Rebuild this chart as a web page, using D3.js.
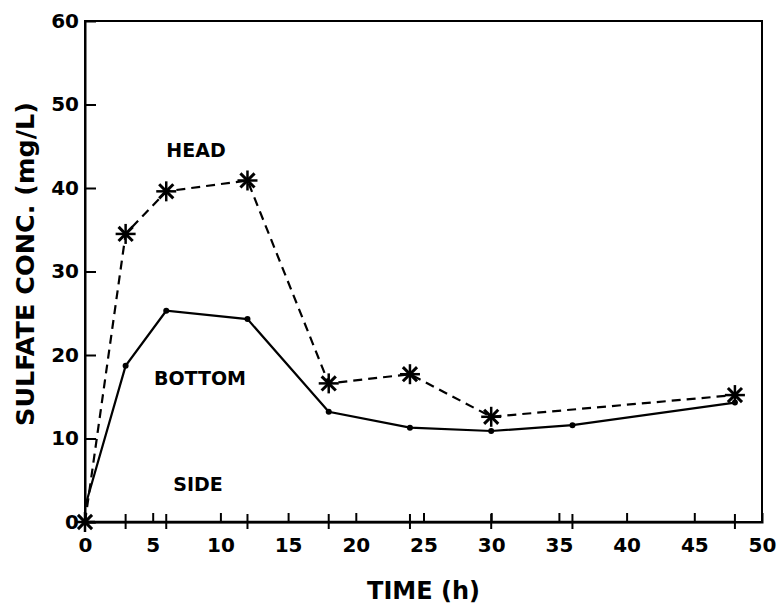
<!DOCTYPE html>
<html lang="en">
<head>
<meta charset="UTF-8">
<title>Sulfate concentration</title>
<script src="https://d3js.org/d3.v7.min.js"></script>
<style>
  body { margin: 0; background: #fff; }
  text { font-family: 'DejaVu Sans', 'Helvetica', Arial, sans-serif; font-weight: bold; fill: #000; }
</style>
</head>
<body>
<div id="chart"></div>
<script>
// sample times (h)
const times = [0, 3, 6, 12, 18, 24, 30, 36, 48];
const headTimes = [0, 3, 6, 12, 18, 24, 30, 48];
const headVals = [0, 34.5, 39.6, 40.9, 16.6, 17.7, 12.6, 15.2];
const bottomVals = [1.8, 18.7, 25.3, 24.3, 13.2, 11.3, 10.9, 11.6, 14.3];
const sideVals = [0, 0, 0, 0, 0, 0, 0, 0, 0];
const xTicks = [0, 5, 10, 15, 20, 25, 30, 35, 40, 45, 50];
const yTicks = [0, 10, 20, 30, 40, 50, 60];

const W = 779, H = 607;
const margin = {top: 21, right: 17, bottom: 85, left: 85};
const width = W - margin.left - margin.right,
      height = H - margin.top - margin.bottom;

const svg = d3.select("#chart").append("svg")
    .attr("width", W).attr("height", H);
const g = svg.append("g").attr("transform", `translate(${margin.left},${margin.top})`);

const x = d3.scaleLinear().domain([0, 50]).range([0, width]);
const y = d3.scaleLinear().domain([0, 60]).range([height, 0]);

// frame
g.append("rect").attr("width", width).attr("height", height)
    .attr("fill", "none").attr("stroke", "#000").attr("stroke-width", 2);

// axes (ticks inside)
const xAxis = g.append("g").attr("transform", `translate(0,${height})`)
    .call(d3.axisBottom(x).tickValues(xTicks).tickSize(-9).tickPadding(16).tickFormat(d3.format("d")));
const yAxis = g.append("g")
    .call(d3.axisLeft(y).tickValues(yTicks).tickSize(-11).tickPadding(6).tickFormat(d3.format("d")));
[xAxis, yAxis].forEach(a => {
  a.select(".domain").attr("stroke-width", 2);
  a.selectAll(".tick line").attr("stroke-width", 2);
  a.selectAll(".tick text").style("font-size", "20px").attr("font-family", null);
});
xAxis.selectAll(".tick").filter(d => d === 0 || d === 50).select("line").remove();
yAxis.selectAll(".tick").filter(d => d === 0 || d === 60).select("line").remove();

const line = d3.line().x(d => x(d[0])).y(d => y(d[1]));

// SIDE: along the baseline, vertical bar markers
g.append("path").datum(times.map((t, i) => [t, sideVals[i]]))
    .attr("d", line).attr("fill", "none").attr("stroke", "#000").attr("stroke-width", 2.5);
g.selectAll(".sideMark").data(times.slice(1).map((t, i) => [t, sideVals[i + 1]]))
  .join("line").attr("class", "sideMark")
    .attr("x1", d => x(d[0])).attr("x2", d => x(d[0]))
    .attr("y1", d => y(d[1]) - 8).attr("y2", d => y(d[1]) + 7)
    .attr("stroke", "#000").attr("stroke-width", 2);

// BOTTOM: solid line with dots
const bottomData = times.map((t, i) => [t, bottomVals[i]]);
g.append("path").datum(bottomData)
    .attr("d", line).attr("fill", "none").attr("stroke", "#000").attr("stroke-width", 2.2);
g.selectAll(".dot").data(bottomData.slice(1)).join("circle").attr("class", "dot")
    .attr("cx", d => x(d[0])).attr("cy", d => y(d[1])).attr("r", 3).attr("fill", "#000");

// HEAD: dashed line with asterisks
const headData = headTimes.map((t, i) => [t, headVals[i]]);
g.append("path").datum(headData)
    .attr("d", line).attr("fill", "none").attr("stroke", "#000").attr("stroke-width", 2.2)
    .attr("stroke-dasharray", "9,6");
const star = g.selectAll(".star").data(headData).join("g").attr("class", "star")
    .attr("transform", d => `translate(${x(d[0])},${y(d[1])})`);
[0, 45, 90, 135].forEach(a => {
  star.append("line").attr("x1", -10).attr("x2", 10).attr("y1", 0).attr("y2", 0)
      .attr("transform", `rotate(${a})`)
      .attr("stroke", "#000").attr("stroke-width", a % 90 === 0 ? 2.5 : 3);
});

// series labels
const labels = [["HEAD", 196, 157], ["BOTTOM", 200, 385], ["SIDE", 198, 491]];
svg.selectAll(".lab").data(labels).join("text").attr("class", "lab")
    .attr("x", d => d[1]).attr("y", d => d[2]).attr("text-anchor", "middle")
    .style("font-size", "19px").text(d => d[0]);

// axis titles
svg.append("text").attr("x", margin.left + width / 2).attr("y", 599)
    .attr("text-anchor", "middle").style("font-size", "24px").text("TIME (h)");
svg.append("text").attr("transform", "translate(34,264) rotate(-90)")
    .attr("text-anchor", "middle").style("font-size", "25.5px").text("SULFATE CONC. (mg/L)");
</script>
</body>
</html>
